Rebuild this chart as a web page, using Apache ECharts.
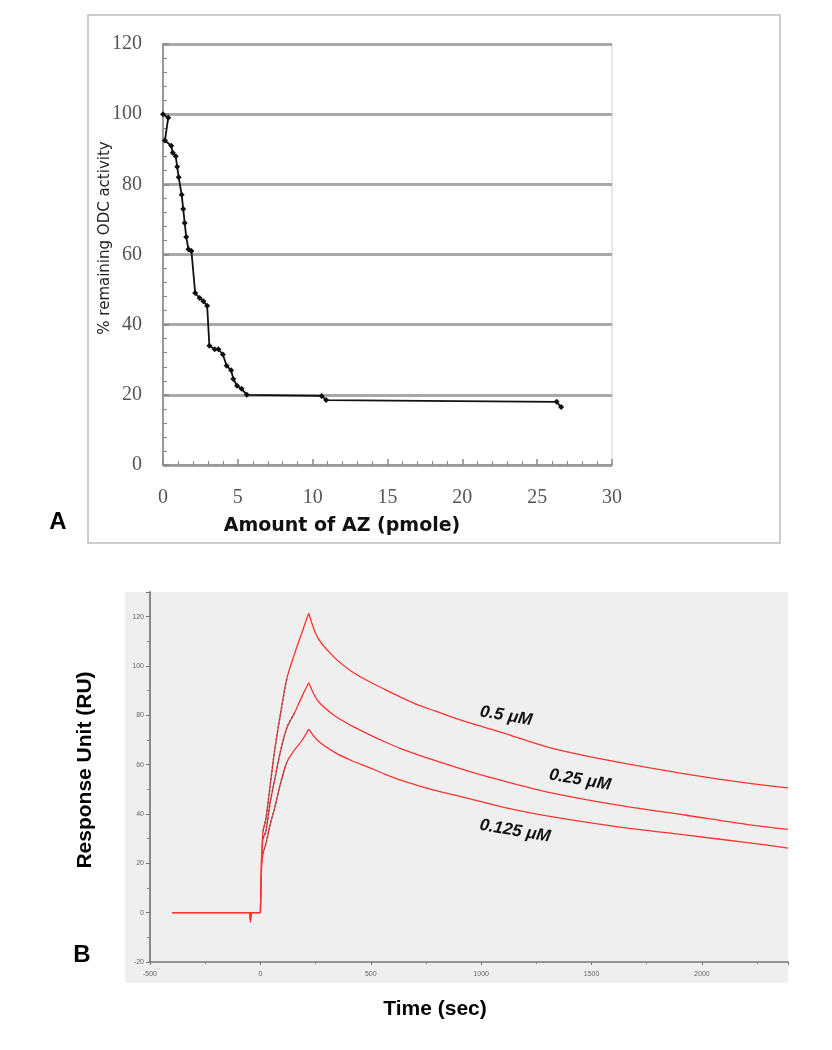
<!DOCTYPE html>
<html><head><meta charset="utf-8">
<script src="https://cdn.jsdelivr.net/npm/echarts@6/dist/echarts.min.js"></script>
<style>html,body{margin:0;padding:0;background:#fff}#c{width:832px;height:1050px}</style>
</head><body><div id="c"></div>
<script>
// ---------- Panel A data ----------
const azAmount = [0, 0.35, 0.13, 0.55, 0.65, 0.85, 0.95, 1.05, 1.25, 1.35, 1.45, 1.55, 1.7, 1.9, 2.15, 2.45, 2.7, 2.95, 3.1, 3.45, 3.7, 4.0, 4.25, 4.55, 4.7, 4.95, 5.25, 5.6, 10.6, 10.9, 26.3, 26.6];
const odcActivity = [100, 99, 92.5, 91, 89, 88, 85, 82, 77, 73, 69, 65, 61.5, 61, 49, 47.6, 46.7, 45.4, 34, 33, 33, 31.5, 28.3, 27, 24.5, 22.6, 21.7, 20, 19.7, 18.5, 18, 16.5];

// ---------- Panel B data ----------
const timeSec = [-400, -300, -200, -100, -48, -45, -42, 0, 5, 12, 25, 45, 65, 90, 120, 155, 190, 219, 261, 337, 412, 488, 563, 639, 714, 790, 941, 1092, 1318, 1620, 1922, 2224, 2390];
const ru_05   = [0, 0, 0, 0, 0, -4, 0, 0, 22, 33, 38, 52, 66, 80, 95, 105, 114, 121.4, 111.3, 103.3, 97.9, 93.9, 90.5, 87.2, 84.2, 81.8, 77.1, 73.1, 66.7, 61, 56.3, 52.3, 50.6];
const ru_025  = [0, 0, 0, 0, 0, -3, 0, 0, 20, 30, 33, 45, 54, 65, 75, 81, 88, 93.2, 85.8, 79.8, 75.8, 72.4, 69.3, 66.4, 64, 61.7, 57.4, 53.6, 48.6, 43.6, 39.6, 35.5, 33.8];
const ru_0125 = [0, 0, 0, 0, 0, -3, 0, 0, 18, 24, 28, 36, 42.5, 52, 61, 66, 70, 74.4, 69.7, 65, 61.7, 59, 56.2, 53.6, 51.5, 49.6, 46.3, 42.9, 38.9, 34.8, 31.5, 28.2, 26.2];
// phase boundaries (sec): association starts / dissociation starts
const phaseBounds = [5, 219];

// fitted association curves (dark dashed overlays)
const fitTime_05 = [12, 25, 45, 65, 90, 120];
const fit_05 = [33, 38, 52, 66, 80, 95];
const fitTime_025 = [12, 25, 45, 65, 90, 120, 155];
const fit_025 = [30, 33, 45, 54, 65, 75, 81];
const fitTime_0125 = [12, 25, 45, 65, 90, 120];
const fit_0125 = [24, 28, 36, 42.5, 52, 61];

const concLabels = ['0.5 μM', '0.25 μM', '0.125 μM'];
const panelLabels = ['A', 'B'];

const zip = (a, b) => a.map((v, i) => [v, b[i]]);

const chart = echarts.init(document.getElementById('c'), null, {renderer: 'canvas'});

const serifLbl = {fontFamily: 'Liberation Serif', fontSize: 20, color: '#555'};
const tinyLbl = {fontFamily: 'Liberation Sans', fontSize: 7, color: '#666', formatter: v => String(v)};

const seg = (pts, smooth) => ({
  type: 'line', xAxisIndex: 1, yAxisIndex: 1, data: pts,
  showSymbol: false, symbol: 'none', smooth: smooth,
  lineStyle: {color: '#ff3333', width: 1.3}, z: 3, animation: false
});
const redCurve = (t, v) => {
  const pts = zip(t, v);
  return [
    seg(pts.filter(p => p[0] <= phaseBounds[0]), false),
    seg(pts.filter(p => p[0] >= phaseBounds[0] && p[0] <= phaseBounds[1]), 0.3),
    seg(pts.filter(p => p[0] >= phaseBounds[1]), 0.3)
  ];
};
const fitLine = (t, v) => ({
  type: 'line', xAxisIndex: 1, yAxisIndex: 1, data: zip(t, v),
  showSymbol: false, symbol: 'none', smooth: 0.3,
  lineStyle: {color: '#555', width: 1.4, type: [2, 2], opacity: 0.8}, z: 4, animation: false
});

const option = {
  animation: false,
  backgroundColor: '#fff',
  grid: [
    {left: 163, right: 220, top: 44, bottom: 585, show: true, borderColor: '#d0d0d0', borderWidth: 1},
    {left: 150, right: 44, top: 592, bottom: 88, show: false}
  ],
  xAxis: [
    {
      gridIndex: 0, type: 'value', min: 0, max: 30, interval: 5,
      axisLine: {show: true, lineStyle: {color: '#999', width: 2}},
      axisTick: {show: true, inside: true, length: 6, lineStyle: {color: '#888', width: 1.5}},
      minorTick: {show: true, splitNumber: 5, length: 4, lineStyle: {color: '#888', width: 1}},
      axisLabel: Object.assign({margin: 23}, serifLbl),
      splitLine: {show: false}
    },
    {
      gridIndex: 1, type: 'value', min: -500, max: 2390, interval: 500,
      axisLine: {show: true, onZero: false, lineStyle: {color: '#777', width: 1.5}},
      axisTick: {show: true, length: 3, lineStyle: {color: '#777'}},
      minorTick: {show: true, splitNumber: 2, length: 2, lineStyle: {color: '#888'}},
      axisLabel: Object.assign({margin: 9, showMaxLabel: false}, tinyLbl),
      splitLine: {show: false}
    }
  ],
  yAxis: [
    {
      gridIndex: 0, type: 'value', min: 0, max: 120, interval: 20,
      axisLine: {show: true, lineStyle: {color: '#999', width: 2}},
      axisTick: {show: true, inside: true, length: 6, lineStyle: {color: '#888', width: 1.5}},
      minorTick: {show: true, splitNumber: 5, length: 4, lineStyle: {color: '#888', width: 1}},
      axisLabel: Object.assign({margin: 21}, serifLbl),
      splitLine: {show: true, lineStyle: {color: '#a8a8a8', width: 3}}
    },
    {
      gridIndex: 1, type: 'value', min: -20, max: 130, interval: 20,
      axisLine: {show: true, onZero: false, lineStyle: {color: '#888', width: 2}},
      axisTick: {show: true, length: 4, lineStyle: {color: '#777'}},
      minorTick: {show: true, splitNumber: 2, length: 3, lineStyle: {color: '#888'}},
      axisLabel: Object.assign({margin: 6, showMaxLabel: false}, tinyLbl),
      splitLine: {show: false}
    }
  ],
  graphic: [
    {type: 'rect', shape: {x: 88, y: 15, width: 692, height: 528}, style: {fill: 'none', stroke: '#bdbdbd', lineWidth: 1.5}, z: -10, silent: true},
    {type: 'rect', shape: {x: 125, y: 592, width: 663, height: 391}, style: {fill: '#efefef'}, z: -10, silent: true},
    {type: 'text', x: 105, y: 238, rotation: Math.PI / 2, style: {text: '% remaining ODC activity', fontFamily: 'DejaVu Sans', fontSize: 15, fill: '#222', align: 'center', verticalAlign: 'middle'}},
    {type: 'text', x: 342, y: 526, style: {text: 'Amount of AZ (pmole)', fontFamily: 'DejaVu Sans', fontWeight: 'bold', fontSize: 19, fill: '#111', align: 'center', verticalAlign: 'middle'}},
    {type: 'text', x: 58, y: 522, style: {text: panelLabels[0], fontFamily: 'Liberation Sans', fontWeight: 'bold', fontSize: 24, fill: '#000', align: 'center', verticalAlign: 'middle'}},
    {type: 'text', x: 82, y: 955, style: {text: panelLabels[1], fontFamily: 'Liberation Sans', fontWeight: 'bold', fontSize: 24, fill: '#000', align: 'center', verticalAlign: 'middle'}},
    {type: 'text', x: 85, y: 770, rotation: Math.PI / 2, style: {text: 'Response Unit (RU)', fontFamily: 'Liberation Sans', fontWeight: 'bold', fontSize: 21, fill: '#000', align: 'center', verticalAlign: 'middle'}},
    {type: 'text', x: 435, y: 1009, style: {text: 'Time (sec)', fontFamily: 'Liberation Sans', fontWeight: 'bold', fontSize: 21, fill: '#000', align: 'center', verticalAlign: 'middle'}},
    {type: 'text', x: 506, y: 716, rotation: -0.17, style: {text: concLabels[0], fontFamily: 'Liberation Sans', fontWeight: 'bold', fontStyle: 'italic', fontSize: 17, fill: '#111', align: 'center', verticalAlign: 'middle'}},
    {type: 'text', x: 580, y: 780, rotation: -0.17, style: {text: concLabels[1], fontFamily: 'Liberation Sans', fontWeight: 'bold', fontStyle: 'italic', fontSize: 17, fill: '#111', align: 'center', verticalAlign: 'middle'}},
    {type: 'text', x: 515, y: 831, rotation: -0.17, style: {text: concLabels[2], fontFamily: 'Liberation Sans', fontWeight: 'bold', fontStyle: 'italic', fontSize: 17, fill: '#111', align: 'center', verticalAlign: 'middle'}}
  ],
  series: [
    {
      type: 'line', xAxisIndex: 0, yAxisIndex: 0, data: zip(azAmount, odcActivity),
      symbol: 'diamond', symbolSize: 6, showSymbol: true,
      itemStyle: {color: '#111'}, lineStyle: {color: '#111', width: 1.8}, z: 5
    },
    ...redCurve(timeSec, ru_05),
    ...redCurve(timeSec, ru_025),
    ...redCurve(timeSec, ru_0125),
    fitLine(fitTime_05, fit_05),
    fitLine(fitTime_025, fit_025),
    fitLine(fitTime_0125, fit_0125)
  ]
};
chart.setOption(option);
</script>
</body></html>
